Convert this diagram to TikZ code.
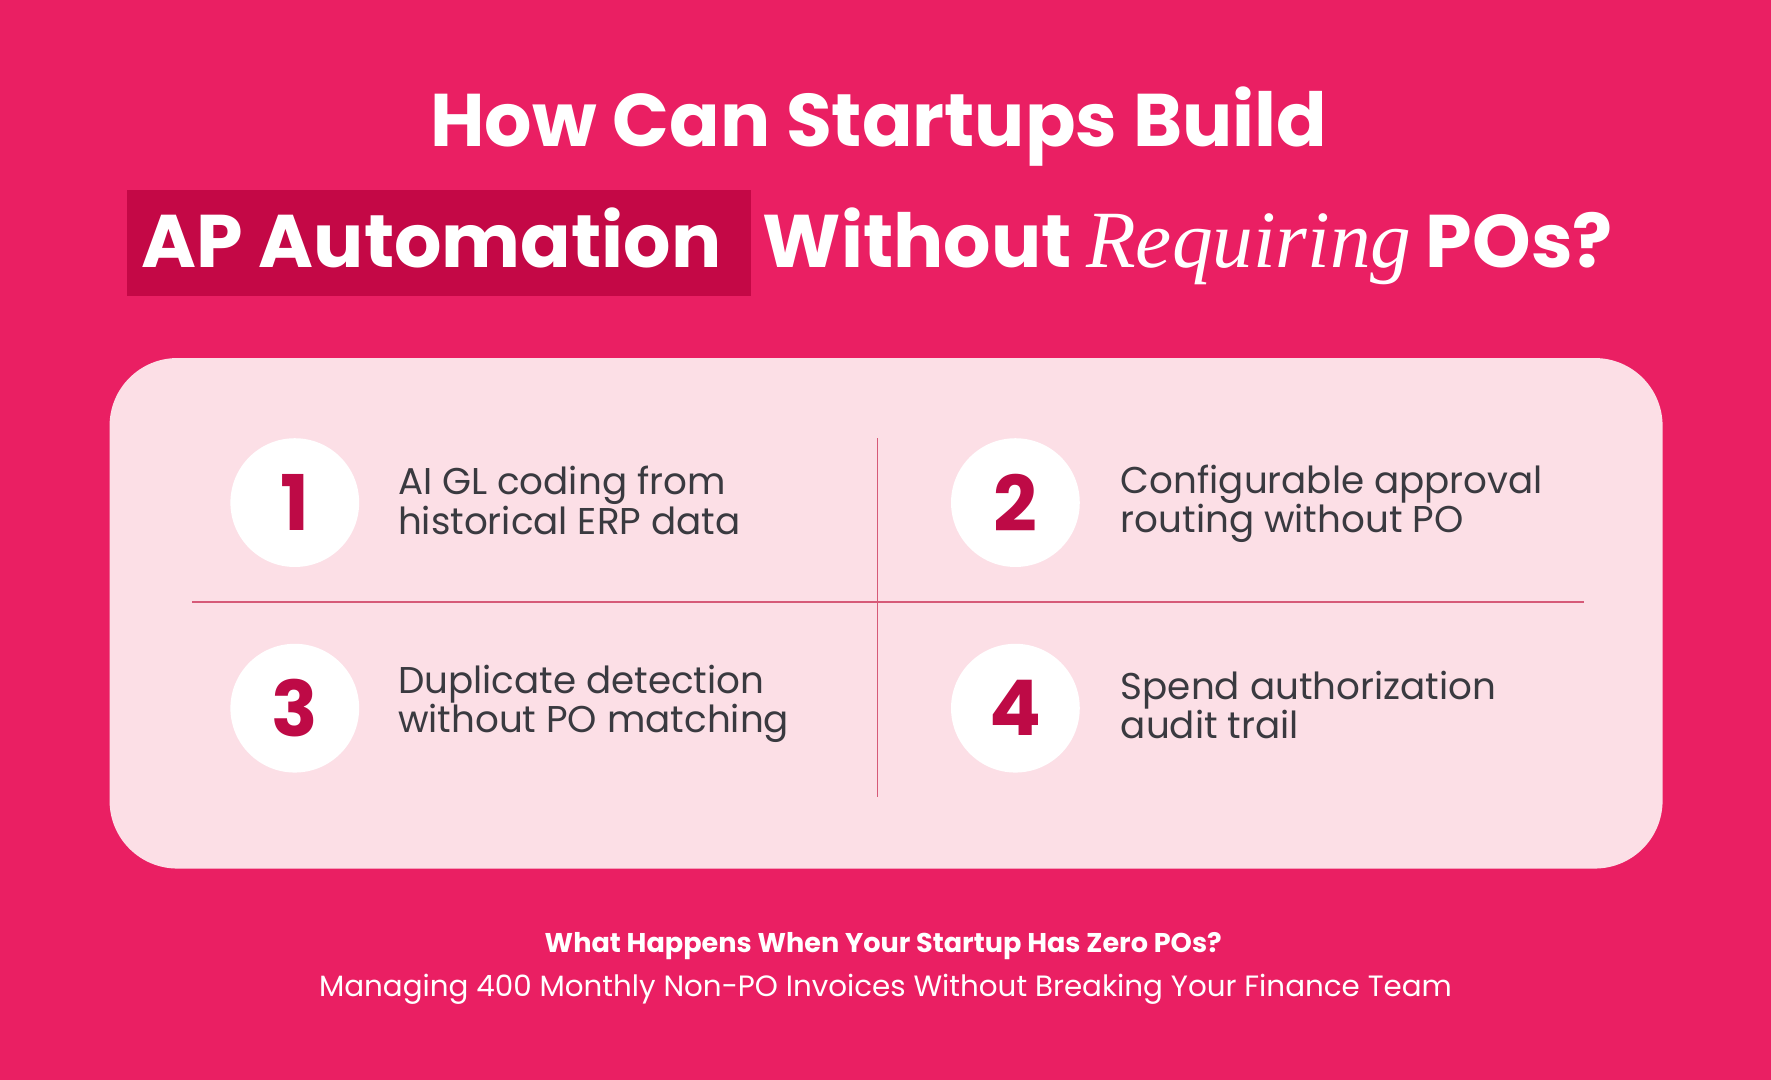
\documentclass[tikz,border=0pt]{standalone}
\usepackage{fontspec}
\setmainfont{Poppins}
\newfontfamily\serifit{Liberation Serif}
\definecolor{bgpink}{RGB}{234,31,99}
\definecolor{hl}{RGB}{196,8,70}
\definecolor{panel}{RGB}{252,223,230}
\definecolor{numc}{RGB}{190,10,70}
\definecolor{txt}{RGB}{58,58,64}
\definecolor{sep}{RGB}{214,90,120}
\begin{document}
\begin{tikzpicture}[x=0.5pt,y=-0.5pt,
  title/.style={text=white,font=\fontsize{33}{36}\selectfont\bfseries,inner sep=0},
  circ/.style={circle,fill=white,minimum size=114*0.5pt,inner sep=0,text=numc,font=\fontsize{34}{36}\selectfont\bfseries},
  item/.style={anchor=west,text=txt,align=left,font=\fontsize{16.5}{17.5}\selectfont,inner sep=0}]
\useasboundingbox (0,0) rectangle (1568,956);
\fill[bgpink] (0,0) rectangle (1568,956);
\node[title] (t1) at (778,112) {How Can Startups Build};
\fill[hl] (112,168) rectangle (665,262);
\node[title,anchor=base west] (t2a) at (125,237) {AP Automation};
\node[title,anchor=base west] (t2b) at (675,237) {Without};
\node[anchor=base west,inner sep=0,text=white,font=\fontsize{36}{38}\selectfont\serifit\itshape] (t2c) at (t2b.base east) {\,Requiring\,};
\node[title,anchor=base west] (t2d) at (t2c.base east) {POs?};
\fill[panel,rounded corners=60*0.5pt] (97,317) rectangle (1472,769);
\coordinate (vt) at (777,388); \coordinate (vb) at (777,706);
\coordinate (hl1) at (170,533); \coordinate (hr) at (1402,533);
\draw[sep,line width=0.6pt] (vt) -- (vb);
\draw[sep,line width=0.6pt] (hl1) -- (hr);
\node[circ] (c1) at (261,445) {1};
\node[circ] (c2) at (899,445) {2};
\node[circ] (c3) at (261,627) {3};
\node[circ] (c4) at (899,627) {4};
\node[item] (i1) at (352,443) {AI GL coding from\\historical ERP data};
\node[item] (i2) at (992,446) {Configurable approval\\routing without PO};
\node[item] (i3) at (352,623) {Duplicate detection\\without PO matching};
\node[item] (i4) at (992,624) {Spend authorization\\audit trail};
\node[text=white,font=\fontsize{12}{14}\selectfont\bfseries] (b1) at (782,838) {What Happens When Your Startup Has Zero POs?};
\node[text=white,font=\fontsize{13}{15}\selectfont] (b2) at (784,876) {Managing 400 Monthly Non-PO Invoices Without Breaking Your Finance Team};
\end{tikzpicture}
\end{document}
